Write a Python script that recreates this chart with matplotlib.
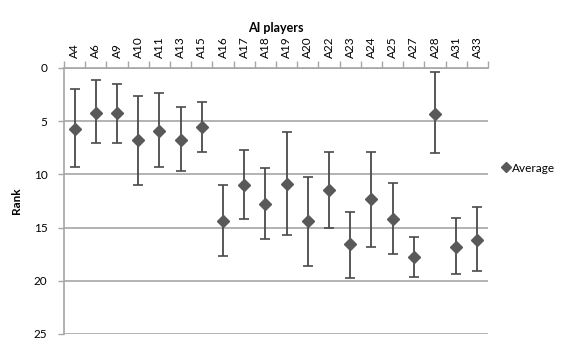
import matplotlib
matplotlib.use("Agg")
import matplotlib.pyplot as plt
import numpy as np

players = ["A4", "A6", "A9", "A10", "A11", "A13", "A15", "A16", "A17", "A18",
           "A19", "A20", "A22", "A23", "A24", "A25", "A27", "A28", "A31", "A33"]
average = [5.75, 4.2, 4.25, 6.75, 5.9, 6.75, 5.5, 14.35, 11.0, 12.8,
           10.9, 14.35, 11.5, 16.5, 12.3, 14.2, 17.8, 4.3, 16.8, 16.2]
upper = [2.0, 1.13, 1.5, 2.6, 2.35, 3.7, 3.2, 11.0, 7.7, 9.4,
         6.0, 10.2, 7.9, 13.5, 7.9, 10.8, 15.9, 0.4, 14.1, 13.1]
lower = [9.26, 7.06, 7.06, 11.0, 9.26, 9.7, 7.9, 17.7, 14.2, 16.1,
         15.7, 18.6, 15.0, 19.7, 16.8, 17.5, 19.6, 8.0, 19.4, 19.1]

plt.rcParams['font.family'] = ['Lato', 'DejaVu Sans']

fig = plt.figure(figsize=(5.84, 3.43), dpi=100)
ax = fig.add_axes([64/584, 1-334/343, 424/584, 266/343])

x = np.arange(len(players))
avg = np.array(average)
yerr = np.vstack([avg - np.array(upper), np.array(lower) - avg])

_, caps, bars = ax.errorbar(x, avg, yerr=yerr, fmt='none', ecolor='#4a4a4a',
                            elinewidth=1.3, capsize=3.5, capthick=1.2, zorder=3)
for c in caps:
    c.set_color('black')
pts, = ax.plot(x, avg, linestyle='none', marker='D', markersize=6.3,
               color='#595959', label='Average', zorder=4)

ax.set_xlim(-0.5, len(players) - 0.5)
ax.set_ylim(25, 0)
ax.set_yticks([0, 5, 10, 15, 20, 25])
ax.yaxis.grid(True, color='#a6a6a6', linewidth=1.2)
ax.set_axisbelow(True)

ax.xaxis.tick_top()
ax.set_xticks(x)
ax.set_xticklabels(players, rotation=90, fontsize=8.5)
ax.set_xticks(np.arange(-0.5, len(players)), minor=True)
ax.tick_params(axis='x', which='major', length=0, pad=7)
ax.tick_params(axis='x', which='minor', length=5, color='#a6a6a6', width=1)
ax.tick_params(axis='y', length=4, color='#a6a6a6', width=1, labelsize=8.5, pad=8)

for s in ['right', 'bottom']:
    ax.spines[s].set_visible(False)
for s in ['left', 'top']:
    ax.spines[s].set_color('#a6a6a6')
    ax.spines[s].set_linewidth(1.2)

ax.set_xlabel('AI players', fontweight='bold', fontsize=9)
ax.xaxis.set_label_position('top')
ax.xaxis.labelpad = 3
ax.set_ylabel('Rank', fontweight='bold', fontsize=8.5, labelpad=8)

fig.legend(handles=[pts], labels=['Average'], loc='center left',
           bbox_to_anchor=(492/584, 1-168/343), frameon=False, fontsize=8.5,
           handlelength=0.6, handletextpad=0.2, markerscale=0.75)

fig.savefig('out.png', dpi=100)
